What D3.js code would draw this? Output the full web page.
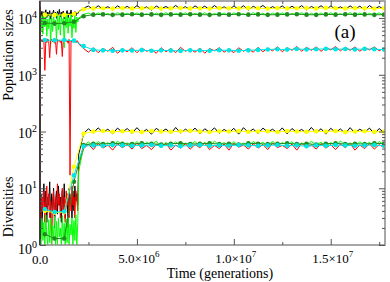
<!DOCTYPE html>
<html>
<head>
<meta charset="utf-8">
<script src="https://cdn.jsdelivr.net/npm/d3@7"></script>
<style>
  body { margin: 0; background: #fff; }
  text { font-family: "Liberation Serif", "DejaVu Serif", serif; fill: #000; }
</style>
</head>
<body>
<svg id="chart" width="390" height="282"></svg>
<script>
// 샘플링 간격 (세대)
const EARLY_STEP = 5e4;       // 초기 구간 0 ~ 2e6
const LATE_START = 2.0e6;
const LATE_STEP = 2.5e5;
const MARK_START = 2.5e5;     // 평균값 마커
const MARK_STEP = 5e5;

// 개체군 크기 - 잡음 있는 선
const popBlackEarly = [12500, 10800, 13200, 9800, 12900, 11500, 14000, 10200, 12800, 11000, 13500, 9600, 12200, 11800, 13800, 10500, 12600, 9900, 13100, 11200, 14200, 10400, 12700, 11600, 13300, 9700, 12100, 11900, 13600, 10100, 12400, 11300, 13900, 10600, 12300, 11100, 13000, 10900, 12600, 12000];
const popBlackLate = [13000, 15000, 16300, 14000, 16500, 14300, 15900, 13900, 16400, 14500, 16100, 14100, 16600, 14400, 15800, 13800, 16300, 14600, 16000, 14200, 16700, 14300, 15900, 14000, 16400, 14500, 16200, 14100, 16600, 14400, 15800, 14000, 16300, 14300, 16500, 13900, 16100, 14600, 16700, 14200, 15900, 14400, 16400, 14000, 16200, 14300, 16600, 13900, 16000, 14500, 16500, 14200, 16300, 14400, 15800, 14100, 16400, 14300, 16200, 13900, 16600, 14400, 16000, 14200];
const popGreenEarly = [9000, 6000, 11000, 5200, 10500, 7000, 12000, 4800, 9500, 6500, 11500, 3500, 10000, 5800, 11800, 7500, 9200, 4200, 12200, 6200, 10800, 5000, 11300, 8000, 9800, 3000, 11000, 6800, 12000, 5400, 10200, 7200, 11600, 4500, 9600, 6600, 11900, 5600, 10400, 8500];
const popGreenLate = [10000, 11600, 12300, 11000, 12400, 11200, 12100, 10900, 12500, 11300, 12200, 11000, 12400, 11100, 12000, 10900, 12300, 11200, 12500, 11000, 12100, 11300, 12400, 10900, 12200, 11100, 12500, 11000, 12100, 11200, 12300, 10900, 12400, 11300, 12000, 11000, 12500, 11100, 12200, 10900, 12300, 11200, 12400, 11000, 12100, 11300, 12500, 10900, 12200, 11100, 12300, 11000, 12400, 11200, 12000, 10900, 12500, 11100, 12300, 11000, 12200, 11300, 12400, 11000];
const popRedEarly = [4100, 3900, 4200, 3800, 4000, 1200, 4100, 3700, 4300, 3900, 2000, 4000, 4200, 3800, 4100, 3600, 4000, 2300, 4200, 3900, 4100, 3700, 4000, 2100, 4300, 3800, 4100, 3900, 4000, 3600, 4200, 17, 4000, 3800, 4100, 3900, 4200, 3700, 4000, 3900];
const popRedLate = [3500, 2900, 2500, 3000, 2450, 2900, 2600, 3050, 2400, 2850, 2550, 3000, 2450, 2950, 2600, 2800, 2400, 3000, 2550, 2900, 2450, 3050, 2600, 2850, 2500, 2950, 2400, 2900, 2650, 3000, 2500, 2850, 2450, 3000, 2600, 2900, 2500, 3050, 2550, 2950, 2650, 3100, 2550, 3000, 2700, 3150, 2600, 3050, 2700, 3100, 2600, 3000, 2750, 3150, 2650, 3050, 2700, 3100, 2600, 3000, 2750, 3100, 2650, 2950];

// 다양성 - 잡음 있는 선
const divBlackEarly = [3, 8, 2, 6, 12, 4, 9, 2.5, 7, 5, 13, 3, 8, 4, 10, 2, 6, 9, 3.5, 11, 5, 7, 2.5, 9, 4, 12, 3, 6, 8, 2, 10, 5, 7, 3, 9, 4, 11, 6, 8, 5];
const divBlackLate = [40, 92, 112, 94, 116, 96, 110, 91, 115, 97, 113, 93, 117, 95, 109, 90, 114, 98, 111, 92, 118, 94, 110, 96, 115, 91, 112, 97, 116, 93, 109, 95, 114, 90, 117, 96, 111, 92, 115, 98, 110, 94, 116, 91, 113, 97, 109, 93, 118, 95, 112, 90, 114, 96, 111, 92, 117, 94, 110, 97, 115, 91, 113, 95];
const divRedEarly = [5, 3, 7, 4, 9, 2.5, 6, 11, 4, 8, 3, 6, 1, 5, 9, 3.5, 7, 4, 12, 5, 8, 3, 6, 10, 4, 7, 2.5, 9, 5, 6, 3, 8, 4, 11, 5, 7, 3, 9, 6, 4];
const divRedLate = [25, 50, 60, 48, 62, 51, 58, 47, 61, 52, 59, 49, 63, 50, 57, 48, 60, 53, 62, 47, 58, 51, 61, 49, 59, 52, 63, 48, 57, 50, 60, 47, 62, 53, 58, 49, 61, 51, 59, 48, 63, 52, 57, 50, 60, 47, 62, 53, 58, 49, 61, 51, 59, 48, 60, 52, 62, 47, 58, 50, 61, 49, 59, 52];
const divGreenEarly = [2, 1, 3, 1.2, 2.5, 1, 3.4, 1.5, 1, 2.8, 1.1, 3, 1, 2.2, 1.3, 3.2, 1, 2.6, 1, 3, 1.4, 2, 1, 3.3, 1.2, 2.4, 1, 2.9, 1.1, 3.1, 1, 2.3, 1.5, 3, 1, 2.7, 1.2, 3.4, 1, 2.5];
const divGreenLate = [20, 55, 66, 54, 67, 57, 64, 53, 68, 58, 63, 55, 67, 54, 65, 57, 68, 53, 64, 56, 66, 55, 63, 58, 67, 54, 65, 53, 68, 57, 64, 55, 66, 56, 63, 54, 67, 58, 65, 53, 68, 55, 64, 57, 66, 54, 63, 56, 67, 58, 65, 53, 64, 55, 68, 57, 63, 54, 66, 56, 65, 53, 67, 58];

// 평균 (마커 있는 선)
const popYellow = [11500, 11300, 11400, 11800, 14300, 14800, 14900, 14700, 15000, 14800, 14900, 15100, 14700, 14900, 15000, 14800, 14900, 14700, 15000, 14900, 14800, 15100, 14900, 14700, 15000, 14800, 14900, 15000, 14800, 15100, 14900, 14800, 15000, 14900, 14700, 14900];
const popDarkGreen = [8200, 8000, 8100, 8600, 10800, 11500, 11600, 11400, 11500, 11700, 11500, 11600, 11400, 11600, 11500, 11700, 11500, 11400, 11600, 11500, 11700, 11500, 11600, 11400, 11500, 11600, 11700, 11500, 11400, 11600, 11500, 11700, 11500, 11600, 11400, 11500];
const popCyan = [4100, 4050, 4100, 4000, 3200, 2750, 2700, 2650, 2700, 2680, 2720, 2650, 2700, 2670, 2640, 2700, 2680, 2650, 2720, 2700, 2660, 2700, 2750, 2800, 2820, 2780, 2850, 2800, 2830, 2870, 2820, 2850, 2800, 2860, 2830, 2780];
const divYellow = [4, 3.7, 3.8, 24, 92, 100, 102, 99, 101, 100, 98, 102, 100, 99, 101, 103, 100, 98, 101, 100, 102, 99, 100, 101, 98, 102, 100, 99, 101, 100, 102, 98, 100, 101, 99, 100];
const divDarkGreen = [1.55, 1.3, 1.3, 13, 58, 61, 60, 62, 61, 60, 62, 61, 59, 61, 62, 60, 61, 62, 60, 61, 59, 62, 61, 60, 61, 62, 60, 61, 59, 61, 62, 60, 61, 60, 62, 61];
const divCyan = [4.3, 3.8, 3.9, 17, 55, 57, 56, 58, 57, 56, 57, 58, 56, 57, 55, 57, 58, 56, 57, 56, 58, 57, 56, 57, 58, 56, 57, 55, 57, 56, 58, 57, 56, 57, 58, 56];

// 축 눈금
const xTicks = [0, 5e6, 1e7, 1.5e7];
const xTickLabels = [["0.0", ""], ["5.0\u00d710", "6"], ["1.0\u00d710", "7"], ["1.5\u00d710", "7"]];
const yTicks = [1, 10, 100, 1000, 10000];
const yTickLabels = ["0", "1", "2", "3", "4"];

const svg = d3.select('#chart');
const plotLeft = 40, plotRight = 385, plotTop = 1, plotBottom = 245;

const x = d3.scaleLinear().domain([0, 1.78e7]).range([plotLeft, plotRight]);
const y = d3.scaleLog().domain([1, 2e4]).range([plotBottom, plotTop]);

function noisy(early, late) {
    return early.map((v, i) => [i * EARLY_STEP, v])
        .concat(late.map((v, i) => [LATE_START + i * LATE_STEP, v]));
}
function marked(vals) {
    return vals.map((v, i) => [MARK_START + i * MARK_STEP, v]);
}

svg.append('defs').append('clipPath').attr('id', 'plotClip')
    .append('rect').attr('x', plotLeft).attr('y', plotTop)
    .attr('width', plotRight - plotLeft).attr('height', plotBottom - plotTop);

const line = d3.line().x(d => x(d[0])).y(d => y(d[1]));
const plot = svg.append('g').attr('clip-path', 'url(#plotClip)');

// 잡음 선
const noisySeries = [
    { data: noisy(popBlackEarly, popBlackLate), color: '#000' },
    { data: noisy(popGreenEarly, popGreenLate), color: '#00ff00' },
    { data: noisy(popRedEarly, popRedLate), color: '#ff0000' },
    { data: noisy(divBlackEarly, divBlackLate), color: '#000' },
    { data: noisy(divRedEarly, divRedLate), color: '#ff0000' },
    { data: noisy(divGreenEarly, divGreenLate), color: '#00ff00' }
];
noisySeries.forEach(s => {
    plot.append('path').datum(s.data)
        .attr('fill', 'none').attr('stroke', s.color)
        .attr('stroke-width', 1).attr('d', line);
});

// 마커 선
const markSeries = [
    { data: marked(popYellow), color: '#ffff00' },
    { data: marked(popDarkGreen), color: '#1f8c1f' },
    { data: marked(popCyan), color: '#00e5e5' },
    { data: marked(divYellow), color: '#ffff00' },
    { data: marked(divDarkGreen), color: '#1f8c1f' },
    { data: marked(divCyan), color: '#00e5e5' }
];
markSeries.forEach(s => {
    plot.append('path').datum(s.data)
        .attr('fill', 'none').attr('stroke', s.color)
        .attr('stroke-width', 1).attr('d', line);
    plot.selectAll(null).data(s.data).enter().append('circle')
        .attr('cx', d => x(d[0])).attr('cy', d => y(d[1]))
        .attr('r', 2.3).attr('fill', s.color);
});

// 프레임
svg.append('rect').attr('x', plotLeft).attr('y', plotTop)
    .attr('width', plotRight - plotLeft).attr('height', plotBottom - plotTop)
    .attr('fill', 'none').attr('stroke', '#8a8a8a').attr('stroke-width', 1.5);
svg.append('line').attr('x1', plotLeft).attr('x2', plotLeft).attr('y1', plotTop).attr('y2', plotBottom)
    .attr('stroke', '#2a1010').attr('stroke-width', 1.5);

// 눈금
const yMinor = [];
yTicks.forEach(t => { for (let k = 2; k <= 9; k++) if (t * k < 2e4) yMinor.push(t * k); });
const xMinor = d3.range(2.5e6, 1.78e7, 5e6);

function tickAxis(axisFn, scale, values, size, transform) {
    svg.append('g').attr('transform', transform)
        .call(axisFn(scale).tickValues(values).tickSize(size).tickFormat(''))
        .call(g => g.select('.domain').remove())
        .call(g => g.selectAll('line').attr('stroke', '#555'));
}
tickAxis(d3.axisLeft, y, yTicks, -6, `translate(${plotLeft},0)`);
tickAxis(d3.axisLeft, y, yMinor, -3, `translate(${plotLeft},0)`);
tickAxis(d3.axisRight, y, yTicks, -6, `translate(${plotRight},0)`);
tickAxis(d3.axisRight, y, yMinor, -3, `translate(${plotRight},0)`);
tickAxis(d3.axisBottom, x, xTicks, -6, `translate(0,${plotBottom})`);
tickAxis(d3.axisBottom, x, xMinor, -3, `translate(0,${plotBottom})`);
tickAxis(d3.axisTop, x, xTicks, -6, `translate(0,${plotTop})`);
tickAxis(d3.axisTop, x, xMinor, -3, `translate(0,${plotTop})`);

// y 눈금 라벨
yTicks.forEach((t, i) => {
    const ty = y(t) + (t === 1 ? 9 : 6);
    const txt = svg.append('text').attr('x', 37).attr('y', ty)
        .attr('text-anchor', 'end').attr('font-size', 14);
    txt.append('tspan').text('10');
    txt.append('tspan').attr('dy', -6).attr('font-size', 10).text(yTickLabels[i]);
});

// x 눈금 라벨
xTicks.forEach((t, i) => {
    const txt = svg.append('text').attr('x', x(t) + (i === 0 ? 0 : 2)).attr('y', i === 0 ? 264 : 263)
        .attr('text-anchor', 'middle').attr('font-size', 13);
    txt.append('tspan').text(xTickLabels[i][0]);
    if (xTickLabels[i][1]) txt.append('tspan').attr('dy', -6).attr('font-size', 9).text(xTickLabels[i][1]);
});

// 축 제목
svg.append('text').attr('x', 220).attr('y', 278).attr('text-anchor', 'middle')
    .attr('font-size', 14).text('Time (generations)');
svg.append('text').attr('transform', 'translate(13,55) rotate(-90)')
    .attr('text-anchor', 'middle').attr('font-size', 14).text('Population sizes');
svg.append('text').attr('transform', 'translate(13,207) rotate(-90)')
    .attr('text-anchor', 'middle').attr('font-size', 14).text('Diversities');
svg.append('text').attr('x', 345).attr('y', 38).attr('text-anchor', 'middle')
    .attr('font-size', 19).text('(a)');
</script>
</body>
</html>
